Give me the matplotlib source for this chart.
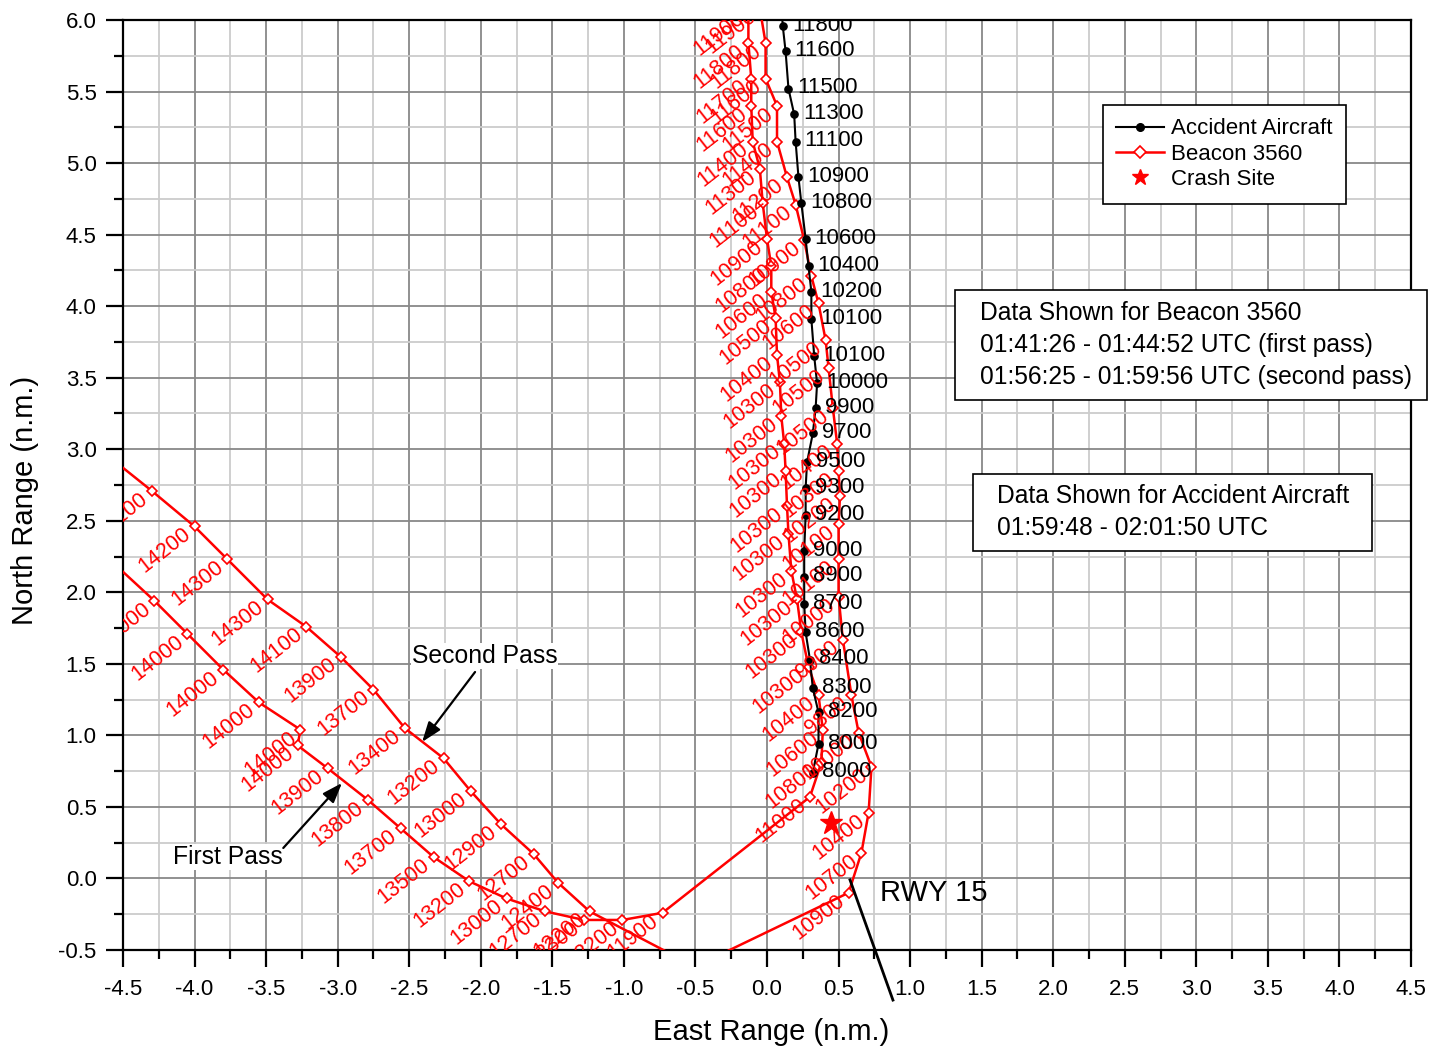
import matplotlib
matplotlib.use('Agg')
import matplotlib.pyplot as plt
from matplotlib.transforms import offset_copy
from matplotlib.lines import Line2D
from matplotlib.patches import Rectangle
from matplotlib.ticker import MultipleLocator, FormatStrFormatter

plt.rcParams['font.family'] = ['Liberation Sans', 'DejaVu Sans']
plt.rcParams['axes.unicode_minus'] = False

# ---------------- data ----------------
# Accident aircraft track (East / North range in n.m.) with Mode C altitude labels
ac_x = [0.10, 0.11, 0.13, 0.15, 0.19, 0.20, 0.22, 0.24, 0.27, 0.29, 0.31, 0.31, 0.33, 0.35,
        0.34, 0.32, 0.28, 0.27, 0.27, 0.26, 0.26, 0.26, 0.27, 0.30, 0.32, 0.36, 0.36, 0.32]
ac_y = [6.11, 5.96, 5.78, 5.52, 5.34, 5.15, 4.90, 4.72, 4.47, 4.28, 4.10, 3.91, 3.65, 3.46,
        3.29, 3.11, 2.91, 2.73, 2.54, 2.29, 2.11, 1.92, 1.72, 1.53, 1.33, 1.16, 0.94, 0.74]
ac_alt = ["", "11800", "11600", "11500", "11300", "11100", "10900", "10800", "10600",
          "10400", "10200", "10100", "10100", "10000", "9900", "9700", "9500", "9300", "9200",
          "9000", "8900", "8700", "8600", "8400", "8300", "8200", "8000", "8000"]

# Beacon 3560 - first pass
fp_x = [-4.54, -4.28, -4.05, -3.80, -3.55, -3.26, -3.28, -3.07, -2.79, -2.56, -2.33, -2.08,
        -1.82, -1.55, -1.28, -1.01, -0.73, 0.30, 0.38, 0.39, 0.36, 0.29, 0.24, 0.21, 0.17,
        0.15, 0.14, 0.13, 0.12, 0.10, 0.09, 0.07, 0.06, 0.03, 0.03, 0.00, -0.03, -0.05,
        -0.10, -0.11, -0.11, -0.13, -0.13]
fp_y = [2.18, 1.94, 1.71, 1.46, 1.23, 1.04, 0.93, 0.77, 0.55, 0.35, 0.15, -0.02, -0.14,
        -0.23, -0.29, -0.29, -0.24, 0.57, 0.81, 1.04, 1.28, 1.48, 1.72, 1.95, 2.15, 2.41,
        2.60, 2.85, 3.04, 3.23, 3.47, 3.66, 3.92, 4.10, 4.28, 4.47, 4.72, 4.96, 5.15, 5.40,
        5.59, 5.84, 6.07]
fp_alt = ["13900", "14000", "14000", "14000", "14000", "14000", "14000", "13900", "13800",
          "13700", "13500", "13200", "13000", "12700", "12300", "12200", "11900", "11000",
          "10800", "10600", "10400", "10300", "10300", "10300", "10300", "10300", "10300",
          "10300", "10300", "10300", "10300", "10400", "10500", "10600", "10800", "10900",
          "11100", "11300", "11400", "11600", "11700", "11800", "11900"]

# Beacon 3560 - second pass
sp_x = [-4.60, -4.30, -4.00, -3.77, -3.49, -3.22, -2.98, -2.75, -2.53, -2.26, -2.07, -1.86,
        -1.63, -1.46, -1.24, -0.61, -0.51, 0.57, 0.66, 0.71, 0.73, 0.64, 0.59, 0.53, 0.50,
        0.50, 0.50, 0.51, 0.50, 0.49, 0.46, 0.43, 0.41, 0.36, 0.31, 0.26, 0.20, 0.14, 0.07,
        0.07, -0.01, -0.01, -0.05]
sp_y = [2.95, 2.71, 2.46, 2.23, 1.95, 1.76, 1.55, 1.32, 1.05, 0.84, 0.61, 0.38, 0.17, -0.03,
        -0.23, -0.56, -0.62, -0.10, 0.18, 0.46, 0.78, 1.02, 1.28, 1.67, 1.97, 2.23, 2.48,
        2.67, 2.85, 3.04, 3.29, 3.57, 3.76, 4.02, 4.21, 4.46, 4.71, 4.90, 5.15, 5.40, 5.59,
        5.84, 6.08]
sp_alt = ["14000", "14100", "14200", "14300", "14300", "14100", "13900", "13700", "13400",
          "13200", "13000", "12900", "12700", "12400", "12200", "12000", "11300", "10900",
          "10700", "10400", "10200", "10000", "9800", "9900", "10000", "10100", "10100",
          "10200", "10300", "10400", "10500", "10500", "10500", "10600", "10800", "10900",
          "11100", "11200", "11400", "11500", "11600", "11800", "11900"]

crash_x = [0.45]
crash_y = [0.39]

rwy_x = [0.58, 0.88]
rwy_y = [-0.01, -0.85]

# ---------------- figure ----------------
W, H = 1429, 1052
fig = plt.figure(figsize=(W / 100, H / 100), dpi=100)
ax = fig.add_axes([123 / W, 1 - 950 / H, (1411 - 123) / W, (950 - 20) / H])

ax.set_xlim(-4.5, 4.5)
ax.set_ylim(-0.5, 6.0)
ax.xaxis.set_major_locator(MultipleLocator(0.5))
ax.xaxis.set_minor_locator(MultipleLocator(0.25))
ax.yaxis.set_major_locator(MultipleLocator(0.5))
ax.yaxis.set_minor_locator(MultipleLocator(0.25))
ax.xaxis.set_major_formatter(FormatStrFormatter('%.1f'))
ax.yaxis.set_major_formatter(FormatStrFormatter('%.1f'))

ax.set_axisbelow(True)
ax.grid(which='major', color='#888888', lw=1.3)
ax.grid(which='minor', color='#cccccc', lw=1.3)

for s in ax.spines.values():
    s.set_linewidth(1.6)
    s.set_color('black')

ax.tick_params(which='major', direction='out', length=12, width=1.6, labelsize=16, pad=7,
               top=False, right=False)
ax.tick_params(axis='x', which='major', pad=9)
ax.tick_params(which='minor', direction='out', length=6.5, width=1.6, top=False, right=False)

ax.set_xlabel('East Range (n.m.)', fontsize=21)
ax.set_ylabel('North Range (n.m.)', fontsize=21)
ax.xaxis.set_label_coords(0.503, -0.073)
ax.yaxis.set_label_coords(-0.065, 0.483)

# beacon tracks
red_kw = dict(color='red', lw=1.8, marker='D', ms=5.5, mfc='white', mec='red', mew=1.2,
              zorder=3)
ax.plot(fp_x, fp_y, **red_kw)
ax.plot(sp_x, sp_y, **red_kw)

# accident aircraft
ax.plot(ac_x, ac_y, color='black', lw=1.5, marker='o', ms=5.2, zorder=4)

# crash site
ax.plot(crash_x, crash_y, ls='none', marker='*', ms=17, color='red', zorder=5)

# runway line
ax.plot(rwy_x, rwy_y, color='black', lw=2.0, clip_on=False, zorder=6)
ax.text(0.79, -0.10, 'RWY 15', fontsize=21, ha='left', va='center', zorder=6)

# altitude labels
red_off = offset_copy(ax.transData, fig=fig, x=-4.5, y=-4, units='points')
for xs, ys, labs in ((fp_x, fp_y, fp_alt), (sp_x, sp_y, sp_alt)):
    for x, y, a in zip(xs, ys, labs):
        ax.text(x, y, a, transform=red_off, rotation=38, rotation_mode='anchor',
                ha='right', va='center', color='red', fontsize=15.5, clip_on=True, zorder=5)

blk_off = offset_copy(ax.transData, fig=fig, x=6.5, y=0.5, units='points')
for x, y, a in zip(ac_x, ac_y, ac_alt):
    if a:
        ax.text(x, y, a, transform=blk_off, ha='left', va='center', color='black',
                fontsize=16, clip_on=True, zorder=6)

# pass annotations
ax.text(-2.48, 1.555, 'Second Pass', fontsize=17.8, ha='left', va='center', zorder=7,
        bbox=dict(facecolor='white', edgecolor='none', pad=0.5))
ax.text(-4.15, 0.15, 'First Pass', fontsize=17.8, ha='left', va='center', zorder=7,
        bbox=dict(facecolor='white', edgecolor='none', pad=0.5))
arrow_kw = dict(arrowstyle='-|>,head_length=0.55,head_width=0.2', color='black', lw=1.6,
                shrinkA=0, shrinkB=0, mutation_scale=22)
ax.annotate('', xy=(-2.41, 0.954), xytext=(-2.04, 1.443), arrowprops=arrow_kw, zorder=7)
ax.annotate('', xy=(-2.97, 0.667), xytext=(-3.38, 0.213), arrowprops=arrow_kw, zorder=7)

# legend
handles = [
    Line2D([], [], color='black', lw=1.5, marker='o', ms=5.5, label='Accident Aircraft'),
    Line2D([], [], color='red', lw=1.8, marker='D', ms=6, mfc='white', mec='red', mew=1.2,
           label='Beacon 3560'),
    Line2D([], [], ls='none', marker='*', ms=12, color='red', label='Crash Site'),
]
leg = ax.legend(handles=handles, loc='upper left', bbox_to_anchor=(1103 / W, 1 - 105 / H),
                bbox_transform=fig.transFigure, fontsize=16, frameon=True, fancybox=False,
                edgecolor='black', framealpha=1, borderpad=0.6, labelspacing=0.2,
                handlelength=2.15, handletextpad=0.3, borderaxespad=0)
leg.get_frame().set_linewidth(1.2)
leg.set_zorder(10)


# info boxes
def box(x0, y0, x1, y1):
    r = Rectangle((x0 / W, 1 - y1 / H), (x1 - x0) / W, (y1 - y0) / H, transform=fig.transFigure,
                  facecolor='white', edgecolor='black', lw=1.2, zorder=10)
    fig.add_artist(r)


box(955, 290, 1427, 400)
for txt, yy in (('Data Shown for Beacon 3560', 313),
                ('01:41:26 - 01:44:52 UTC (first pass)', 345),
                ('01:56:25 - 01:59:56 UTC (second pass)', 377)):
    fig.text(980 / W, 1 - yy / H, txt, fontsize=17.7, ha='left', va='center', zorder=11)

box(973, 474, 1372, 551)
for txt, yy in (('Data Shown for Accident Aircraft', 496),
                ('01:59:48 - 02:01:50 UTC', 528)):
    fig.text(997 / W, 1 - yy / H, txt, fontsize=17.7, ha='left', va='center', zorder=11)

fig.savefig('out.png', dpi=100)
